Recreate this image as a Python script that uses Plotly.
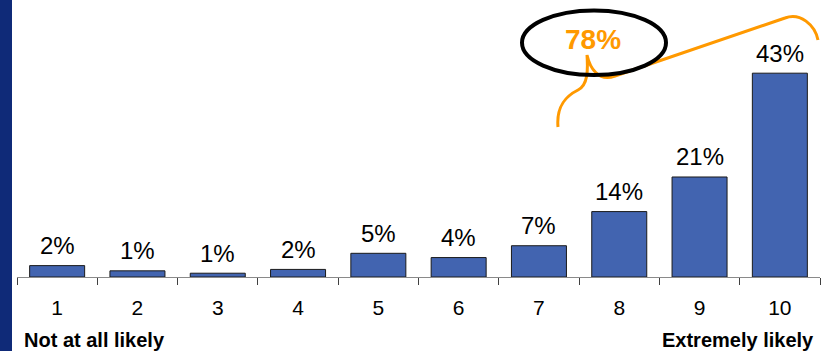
import plotly.graph_objects as go

# ---- data ----
categories = ["1", "2", "3", "4", "5", "6", "7", "8", "9", "10"]
values = [2.4, 1.3, 0.8, 1.6, 5.0, 4.1, 6.6, 13.8, 21.1, 43.0]
labels = [f"{round(v)}%" for v in values]
left_label = "Not at all likely"
right_label = "Extremely likely"
callout_text = "78%"

# ---- layout geometry (pixels) ----
W, H = 826, 351
ML, MR, MT, MB = 17, 6, 40, 74
PW, PH = W - ML - MR, H - MT - MB

def px(x):
    return (x - ML) / PW

def py(y):
    return (H - MB - y) / PH

BAR = "#4264B0"
ORANGE = "#FF9900"
FONT = "Liberation Sans, Arial, sans-serif"

fig = go.Figure()
fig.add_trace(go.Bar(
    x=categories, y=values,
    marker=dict(color=BAR, line=dict(color="#1a1a1a", width=1)),
    width=0.685,
    hoverinfo="skip",
))

for i, (v, t) in enumerate(zip(values, labels)):
    fig.add_annotation(x=i, y=v, text=t, showarrow=False, xref="x", yref="y",
                       yanchor="middle", yshift=20,
                       font=dict(family=FONT, size=24, color="black"))

# side labels
fig.add_annotation(x=px(22), y=py(340), xref="paper", yref="paper", text=f"<b>{left_label}</b>",
                   showarrow=False, xanchor="left", yanchor="middle",
                   font=dict(family=FONT, size=20, color="black"))
fig.add_annotation(x=px(816), y=py(340), xref="paper", yref="paper", text=f"<b>{right_label}</b>",
                   showarrow=False, xanchor="right", yanchor="middle",
                   font=dict(family=FONT, size=20, color="black"))

# left navy strip
fig.add_shape(type="rect", xref="paper", yref="paper", x0=px(0), x1=px(12), y0=py(H), y1=py(0),
              fillcolor="#0F2A78", line=dict(width=0), layer="above")

# brace
pts = "M {} {} C {} {}, {} {}, {} {} C {} {}, {} {}, {} {} C {} {}, {} {}, {} {} L {} {} C {} {}, {} {}, {} {}"
coords = [(558, 127), (556, 104), (568, 95), (578, 90), (588, 85), (588, 70), (587, 55),
          (590, 68), (598, 82), (615, 76), (785, 18), (800, 12), (815, 25), (818, 40)]
flat = []
for (a, b) in coords:
    flat += [f"{px(a):.5f}", f"{py(b):.5f}"]
fig.add_shape(type="path", xref="paper", yref="paper", path=pts.format(*flat),
              line=dict(color=ORANGE, width=3))

# ellipse
fig.add_shape(type="circle", xref="paper", yref="paper",
              x0=px(522), x1=px(666), y0=py(75), y1=py(10.5),
              line=dict(color="black", width=4), fillcolor="rgba(0,0,0,0)")
fig.add_annotation(x=px(593), y=py(39), xref="paper", yref="paper", text=f"<b>{callout_text}</b>",
                   showarrow=False, xanchor="center", yanchor="middle",
                   font=dict(family=FONT, size=28, color=ORANGE))

fig.update_layout(
    width=W, height=H,
    margin=dict(l=ML, r=MR, t=MT, b=MB, pad=0),
    paper_bgcolor="white", plot_bgcolor="white",
    showlegend=False,
    xaxis=dict(type="category", range=[-0.5, 9.5], autorange=False,
               showline=True, linecolor="#8a8a8a", linewidth=1,
               ticks="outside", ticklen=7, tickcolor="#404040", tickwidth=1,
               tickson="boundaries", showgrid=False, zeroline=False,
               tickfont=dict(family=FONT, size=21, color="black"), ticklabelstandoff=12,
               fixedrange=True),
    yaxis=dict(range=[0, 50], visible=False, showgrid=False, zeroline=False, fixedrange=True),
)

fig.write_html("out.html")
